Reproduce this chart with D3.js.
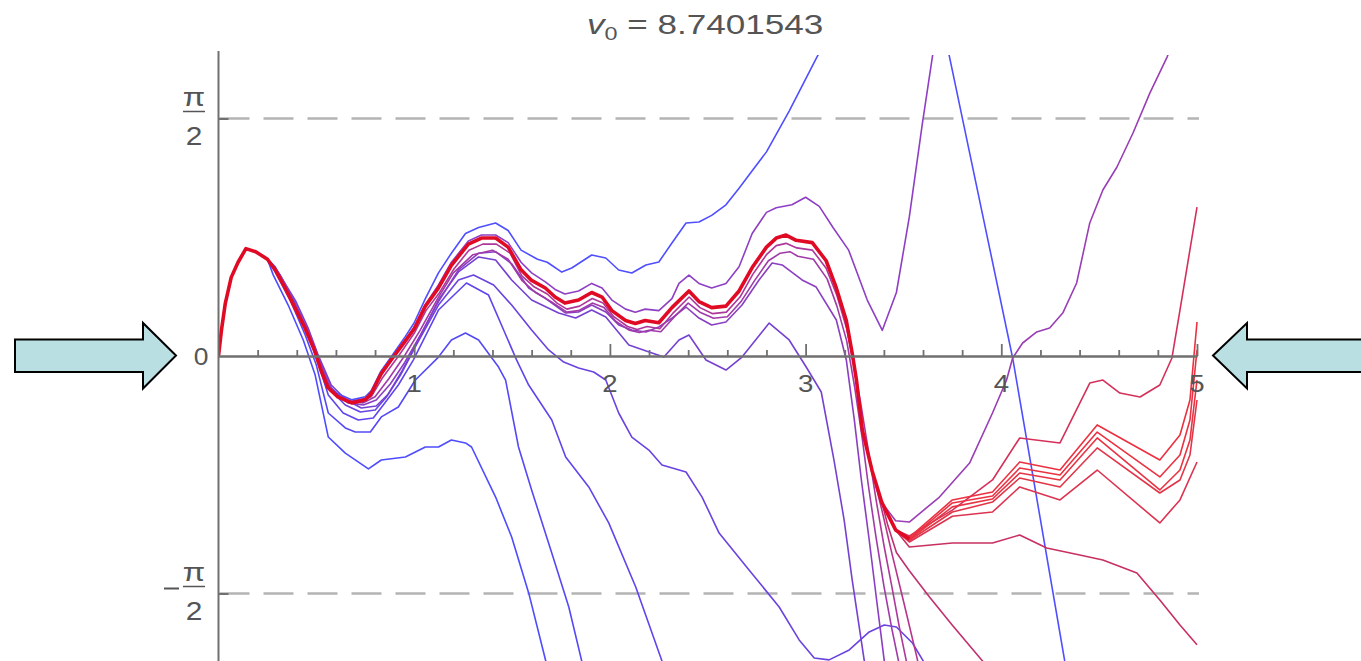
<!DOCTYPE html>
<html><head><meta charset="utf-8">
<script src="https://cdn.jsdelivr.net/npm/d3@7"></script>
<style>
html,body{margin:0;padding:0;background:#fff;}
svg{display:block;font-family:"Liberation Sans",Arial,sans-serif;}
</style></head><body>
<svg id="chart" width="1361" height="661"></svg>
<script>
// ---------- data ----------
const titleValue = "8.7401543";
const xTicks = [1, 2, 3, 4, 5];
const xMinorTicks = [0.2,0.4,0.6,0.8,1.2,1.4,1.6,1.8,2.2,2.4,2.6,2.8,3.2,3.4,3.6,3.8,4.2,4.4,4.6,4.8];
const yTickValues = [-Math.PI/2, Math.PI/2];
const dashedLevels = [-Math.PI/2, Math.PI/2];

// common start of every trajectory
const shared = [[0,0],[0.015,0.17],[0.035,0.35],[0.065,0.52],[0.10,0.62],[0.14,0.71],[0.19,0.69],[0.25,0.64]];

const coreTail = [[0.29,0.57],[0.34,0.45],[0.39,0.32],[0.44,0.19],[0.49,0.04],[0.525,-0.10],[0.56,-0.21],[0.61,-0.27],[0.68,-0.31],[0.75,-0.29],[0.78,-0.25],[0.83,-0.12],[0.88,-0.03],[0.955,0.10],[1.0,0.18],[1.057,0.33],[1.124,0.45],[1.19,0.60],[1.277,0.74],[1.344,0.78],[1.416,0.78],[1.48,0.72],[1.546,0.57],[1.60,0.50],[1.67,0.45],[1.72,0.39],[1.77,0.35],[1.84,0.37],[1.907,0.42],[1.96,0.39],[2.01,0.30],[2.08,0.235],[2.13,0.215],[2.18,0.235],[2.25,0.22],[2.317,0.32],[2.404,0.43],[2.455,0.36],[2.52,0.32],[2.593,0.33],[2.66,0.43],[2.727,0.585],[2.80,0.72],[2.85,0.78],[2.90,0.80],[2.952,0.765],[3.034,0.75],[3.105,0.63],[3.157,0.45],[3.208,0.235],[3.238,0.02],[3.26,-0.16],[3.29,-0.49],[3.34,-0.76],[3.39,-0.97],[3.46,-1.15],[3.53,-1.21]];

const c1Tail = [[0.28,0.535],[0.356,0.337],[0.433,0.106],[0.494,-0.126],[0.561,-0.536],[0.648,-0.642],[0.766,-0.747],[0.832,-0.688],[0.955,-0.668],[1.057,-0.602],[1.124,-0.602],[1.19,-0.556],[1.262,-0.575],[1.293,-0.602],[1.416,-0.933],[1.498,-1.197],[1.585,-1.567],[1.672,-2.016],[1.74,-2.41]];
const c2Tail = [[0.29,0.555],[0.366,0.37],[0.443,0.139],[0.5,-0.06],[0.561,-0.377],[0.648,-0.476],[0.699,-0.503],[0.776,-0.503],[0.832,-0.403],[0.919,-0.337],[1.006,-0.159],[1.124,-0.007],[1.19,0.106],[1.262,0.152],[1.329,0.106],[1.431,-0.073],[1.467,-0.159],[1.533,-0.602],[1.6,-0.886],[1.703,-1.303],[1.79,-1.66],[1.856,-2.017],[1.89,-2.28]];
const c3Tail = [[0.294,0.555],[0.381,0.37],[0.448,0.172],[0.504,-0.026],[0.561,-0.258],[0.637,-0.377],[0.714,-0.423],[0.791,-0.41],[0.842,-0.324],[0.919,-0.192],[0.996,-0.026],[1.124,0.304],[1.267,0.483],[1.38,0.403],[1.457,0.172],[1.523,-0.026],[1.585,-0.192],[1.703,-0.423],[1.774,-0.668],[1.892,-0.866],[1.994,-1.104],[2.132,-1.528],[2.266,-2.017],[2.3,-2.21]];
const eTail = [[0.3,0.555],[0.392,0.35],[0.453,0.172],[0.509,-0.013],[0.571,-0.225],[0.648,-0.324],[0.725,-0.37],[0.801,-0.357],[0.858,-0.271],[0.93,-0.126],[1.011,0.073],[1.124,0.337],[1.226,0.503],[1.303,0.536],[1.406,0.47],[1.498,0.337],[1.6,0.172],[1.687,0.04],[1.764,-0.04],[1.84,-0.079],[1.917,-0.106],[1.979,-0.159],[2.045,-0.377],[2.112,-0.536],[2.199,-0.622],[2.266,-0.721],[2.389,-0.767],[2.471,-0.933],[2.558,-1.171],[2.711,-1.415],[2.865,-1.66],[2.967,-1.878],[3.044,-1.997],[3.12,-2.01],[3.223,-1.944],[3.325,-1.825],[3.402,-1.779],[3.464,-1.792],[3.546,-1.898],[3.607,-2.03],[3.658,-2.21]];
const dTail = [[0.305,0.555],[0.397,0.357],[0.458,0.185],[0.509,0.007],[0.576,-0.192],[0.653,-0.291],[0.73,-0.344],[0.806,-0.331],[0.868,-0.251],[0.94,-0.093],[1.021,0.106],[1.124,0.37],[1.226,0.556],[1.329,0.655],[1.416,0.635],[1.498,0.503],[1.6,0.37],[1.738,0.284],[1.825,0.251],[1.907,0.304],[1.979,0.258],[2.097,0.073],[2.215,0.02],[2.276,-0.007],[2.353,0.106],[2.404,0.139],[2.491,-0.026],[2.593,-0.093],[2.675,-0.007],[2.814,0.218],[2.916,0.106],[3.003,-0.073],[3.08,-0.238],[3.145,-0.688],[3.197,-1.085],[3.238,-1.481],[3.3,-2.017],[3.325,-2.27]];
const aTail = [[0.29,0.59],[0.34,0.47],[0.39,0.34],[0.44,0.21],[0.49,0.06],[0.525,-0.08],[0.56,-0.19],[0.61,-0.25],[0.68,-0.29],[0.75,-0.27],[0.78,-0.23],[0.83,-0.10],[0.88,-0.01],[0.955,0.13],[1.0,0.22],[1.057,0.38],[1.124,0.55],[1.19,0.68],[1.262,0.81],[1.329,0.85],[1.416,0.88],[1.48,0.83],[1.546,0.70],[1.63,0.64],[1.68,0.62],[1.754,0.555],[1.805,0.582],[1.907,0.668],[1.979,0.648],[2.045,0.569],[2.112,0.549],[2.184,0.602],[2.25,0.622],[2.317,0.747],[2.389,0.88],[2.455,0.886],[2.52,0.93],[2.593,1.0],[2.66,1.11],[2.73,1.23],[2.8,1.35],[2.916,1.62],[3.059,1.98],[3.55,3.15],[3.735,1.98],[4.058,-0.013],[4.324,-2.017],[4.4,-2.5]];
const bTail = [[0.29,0.58],[0.34,0.47],[0.39,0.34],[0.44,0.21],[0.49,0.06],[0.525,-0.08],[0.56,-0.19],[0.61,-0.26],[0.68,-0.30],[0.75,-0.28],[0.78,-0.24],[0.83,-0.11],[0.88,-0.02],[0.955,0.11],[1.0,0.19],[1.057,0.34],[1.124,0.47],[1.19,0.62],[1.277,0.76],[1.344,0.80],[1.416,0.80],[1.48,0.75],[1.546,0.62],[1.6,0.55],[1.67,0.49],[1.72,0.44],[1.77,0.41],[1.84,0.43],[1.907,0.48],[1.96,0.45],[2.01,0.37],[2.08,0.31],[2.13,0.29],[2.18,0.31],[2.25,0.30],[2.317,0.38],[2.353,0.48],[2.404,0.535],[2.455,0.48],[2.52,0.45],[2.593,0.48],[2.66,0.59],[2.727,0.81],[2.80,0.95],[2.85,0.98],[2.93,1.0],[3.0,1.05],[3.07,0.99],[3.14,0.85],[3.22,0.70],[3.315,0.37],[3.392,0.17],[3.464,0.42],[3.53,0.92],[3.597,1.54],[3.648,1.98],[3.70,2.45]];
const k5Tail = [[0.315,0.536],[0.408,0.304],[0.468,0.139],[0.52,-0.04],[0.586,-0.238],[0.663,-0.311],[0.74,-0.324],[0.806,-0.291],[0.878,-0.185],[0.95,-0.046],[1.032,0.139],[1.124,0.36],[1.226,0.57],[1.329,0.68],[1.416,0.69],[1.498,0.61],[1.585,0.45],[1.672,0.38],[1.774,0.284],[1.84,0.291],[1.907,0.337],[1.979,0.291],[2.045,0.205],[2.112,0.172],[2.184,0.159],[2.25,0.192],[2.317,0.251],[2.389,0.324],[2.455,0.251],[2.52,0.205],[2.593,0.225],[2.675,0.337],[2.762,0.503],[2.829,0.615],[2.88,0.602],[2.982,0.503],[3.054,0.456],[3.157,0.238],[3.208,-0.026],[3.249,-0.423],[3.285,-0.82],[3.325,-1.217],[3.361,-1.594],[3.402,-2.017],[3.428,-2.275]];
const k4Tail = [[0.3,0.55],[0.40,0.30],[0.46,0.15],[0.515,-0.05],[0.58,-0.24],[0.66,-0.30],[0.74,-0.31],[0.80,-0.27],[0.87,-0.15],[0.95,0.0],[1.03,0.17],[1.12,0.38],[1.2,0.55],[1.3,0.67],[1.4,0.70],[1.48,0.64],[1.55,0.50],[1.62,0.42],[1.70,0.36],[1.78,0.29],[1.84,0.30],[1.91,0.35],[1.97,0.32],[2.03,0.23],[2.1,0.17],[2.15,0.155],[2.2,0.17],[2.26,0.16],[2.33,0.26],[2.4,0.35],[2.46,0.29],[2.53,0.25],[2.6,0.26],[2.67,0.36],[2.74,0.50],[2.81,0.63],[2.87,0.68],[2.92,0.69],[2.96,0.66],[3.04,0.64],[3.11,0.51],[3.16,0.33],[3.21,0.1],[3.25,-0.2],[3.29,-0.55],[3.32,-0.85],[3.36,-1.2],[3.40,-1.52],[3.44,-1.8],[3.48,-2.05],[3.5,-2.2]];
const k3Tail = [[0.3,0.56],[0.40,0.31],[0.46,0.16],[0.51,-0.03],[0.57,-0.23],[0.64,-0.29],[0.71,-0.31],[0.78,-0.27],[0.84,-0.14],[0.92,0.0],[1.0,0.15],[1.06,0.30],[1.13,0.42],[1.2,0.57],[1.28,0.70],[1.35,0.74],[1.42,0.74],[1.49,0.68],[1.55,0.53],[1.61,0.46],[1.68,0.41],[1.73,0.35],[1.78,0.31],[1.845,0.33],[1.91,0.38],[1.965,0.35],[2.02,0.26],[2.09,0.195],[2.14,0.175],[2.19,0.195],[2.255,0.18],[2.32,0.28],[2.405,0.39],[2.46,0.32],[2.525,0.28],[2.595,0.29],[2.665,0.39],[2.73,0.54],[2.80,0.67],[2.85,0.73],[2.90,0.745],[2.955,0.715],[3.035,0.70],[3.105,0.58],[3.16,0.40],[3.21,0.18],[3.245,-0.05],[3.28,-0.30],[3.32,-0.62],[3.36,-0.95],[3.40,-1.25],[3.44,-1.52],[3.48,-1.80],[3.52,-2.05],[3.55,-2.25]];
const k2Tail = [[3.39,-1.02],[3.44,-1.3],[3.50,-1.62],[3.57,-2.0],[3.6,-2.2]];
const k6Tail = [[3.42,-1.12],[3.464,-1.30],[3.53,-1.42],[3.633,-1.594],[3.75,-1.78],[3.904,-2.017],[4.0,-2.17]];
const gTail = [[3.46,-1.09],[3.53,-1.098],[3.684,-0.933],[3.838,-0.708],[3.955,-0.377],[4.027,-0.159],[4.058,-0.013],[4.109,0.086],[4.181,0.159],[4.247,0.185],[4.314,0.284],[4.385,0.483],[4.452,0.88],[4.519,1.098],[4.591,1.25],[4.673,1.475],[4.759,1.739],[4.847,1.977],[4.96,2.35]];
const r7Tail = [[3.53,-1.263],[3.75,-1.237],[3.955,-1.237],[4.094,-1.184],[4.232,-1.27],[4.401,-1.316],[4.519,-1.349],[4.693,-1.435],[4.81,-1.614],[4.913,-1.779],[5.0,-1.91]];
const r1Tail = [[3.53,-1.19],[3.75,-1.019],[3.955,-0.82],[4.094,-0.542],[4.3,-0.575],[4.452,-0.179],[4.519,-0.159],[4.606,-0.245],[4.709,-0.271],[4.81,-0.192],[4.872,-0.013],[4.913,0.304],[5.0,0.985]];
const r2Tail = [[3.53,-1.20],[3.75,-0.952],[3.955,-0.900],[4.094,-0.701],[4.3,-0.754],[4.49,-0.456],[4.81,-0.688],[4.913,-0.522],[4.964,-0.291],[5.0,0.225]];
const r3Tail = [[3.53,-1.21],[3.75,-0.972],[3.955,-0.926],[4.094,-0.741],[4.3,-0.787],[4.49,-0.503],[4.81,-0.800],[4.913,-0.655],[4.964,-0.423],[5.0,0.04]];
const r4Tail = [[3.53,-1.215],[3.75,-0.998],[3.955,-0.946],[4.094,-0.774],[4.3,-0.820],[4.49,-0.542],[4.81,-0.886],[4.913,-0.754],[4.964,-0.556],[5.0,-0.159]];
const r5Tail = [[3.53,-1.22],[3.75,-1.032],[3.955,-0.966],[4.094,-0.807],[4.3,-0.866],[4.49,-0.608],[4.81,-0.906],[4.913,-0.820],[4.964,-0.655],[5.0,-0.291]];
const r6Tail = [[3.53,-1.23],[3.75,-1.06],[3.955,-1.032],[4.094,-0.866],[4.3,-0.952],[4.49,-0.754],[4.81,-1.104],[4.913,-0.952],[5.0,-0.701]];

// ---------- assemble trajectories ----------
const core = shared.concat(coreTail);
const coreUpTo = t => core.filter(p => p[0] <= t);
const series = [
  {data: shared.concat(c1Tail), color: "#4d4cff"},
  {data: shared.concat(c2Tail), color: "#5549f6"},
  {data: shared.concat(c3Tail), color: "#5f46ec"},
  {data: shared.concat(eTail),  color: "#6a43e0"},
  {data: shared.concat(dTail),  color: "#7541d2"},
  {data: shared.concat(aTail),  color: "#4f4fff"},
  {data: shared.concat(k5Tail), color: "#8a3ec2"},
  {data: shared.concat(bTail),  color: "#8e3fc4"},
  {data: coreUpTo(3.39).concat(gTail), color: "#9a3db6"},
  {data: shared.concat(k4Tail), color: "#a03aa8"},
  {data: shared.concat(k3Tail), color: "#ad379a"},
  {data: coreUpTo(3.34).concat(k2Tail), color: "#b8348c"},
  {data: coreUpTo(3.39).concat(k6Tail), color: "#c0306f"},
  {data: coreUpTo(3.46).concat(r7Tail), color: "#c83060"},
  {data: coreUpTo(3.46).concat(r1Tail), color: "#d4305a"},
  {data: coreUpTo(3.46).concat(r6Tail), color: "#dd3350"},
  {data: coreUpTo(3.46).concat(r5Tail), color: "#e33548"},
  {data: coreUpTo(3.46).concat(r4Tail), color: "#e73444"},
  {data: coreUpTo(3.46).concat(r3Tail), color: "#ea3242"},
  {data: coreUpTo(3.46).concat(r2Tail), color: "#ec3040"}
];

// ---------- drawing ----------
const svg = d3.select("#chart");
const x = d3.scaleLinear().domain([0, 5]).range([218.5, 1197]);
const y = d3.scaleLinear().domain([-Math.PI/2, Math.PI/2]).range([593.5, 118.5]);
const plotTop = 55, plotBottom = 661;
const grey = "#707070", textCol = "#555";

// arrows (annotations)
svg.append("path").attr("d", "M15,339.5 H143 V323 L176,355.5 L143,388.5 V372 H15 Z")
  .attr("fill", "#b9dfe2").attr("stroke", "#000").attr("stroke-width", 2).attr("stroke-linejoin","miter");
svg.append("path").attr("d", "M1370,339.5 H1247 V323 L1213,355.5 L1247,388.5 V372 H1370 Z")
  .attr("fill", "#b9dfe2").attr("stroke", "#000").attr("stroke-width", 2);

// dashed reference lines
svg.selectAll("line.ref").data(dashedLevels).enter().append("line")
  .attr("x1", 219.5).attr("x2", x(5) + 2)
  .attr("y1", d => y(d)).attr("y2", d => y(d))
  .attr("stroke", "#b4b4b4").attr("stroke-width", 2.6).attr("stroke-dasharray", "30,14");

// clip
svg.append("clipPath").attr("id", "clip").append("rect")
  .attr("x", x(0)).attr("y", plotTop).attr("width", x(5) - x(0) + 4).attr("height", plotBottom - plotTop + 5);

const line = d3.line().x(d => x(d[0])).y(d => y(d[1]));
const g = svg.append("g").attr("clip-path", "url(#clip)");
g.selectAll("path.traj").data(series).enter().append("path")
  .attr("d", d => line(d.data)).attr("fill", "none")
  .attr("stroke", d => d.color).attr("stroke-width", 1.6).attr("stroke-linejoin", "round");
g.append("path").attr("d", line(core)).attr("fill", "none")
  .attr("stroke", "#e00a25").attr("stroke-width", 3.6).attr("stroke-linejoin", "round");

// x axis (ticks pointing up)
const xAxisMinor = d3.axisTop(x).tickValues(xMinorTicks).tickSize(6).tickSizeOuter(0).tickFormat("");
const xAxisMajor = d3.axisTop(x).tickValues(xTicks).tickSize(12).tickSizeOuter(0).tickFormat("");
[xAxisMinor, xAxisMajor].forEach(ax => {
  const a = svg.append("g").attr("transform", `translate(0,${y(0)})`).call(ax);
  a.selectAll("line").attr("stroke", grey).attr("stroke-width", 1.8);
  a.select(".domain").attr("stroke", grey).attr("stroke-width", 2);
});
svg.selectAll("text.xl").data(xTicks).enter().append("text")
  .attr("transform", d => `translate(${x(d)},392) scale(1.15,1)`)
  .attr("text-anchor", "middle").attr("font-size", 24).attr("fill", textCol).text(d => d);

// y axis
svg.append("line").attr("x1", x(0)).attr("x2", x(0)).attr("y1", 51).attr("y2", 661)
  .attr("stroke", grey).attr("stroke-width", 2);
const yAxis = d3.axisRight(y).tickValues(yTickValues).tickSize(10).tickSizeOuter(0).tickFormat("");
const ya = svg.append("g").attr("transform", `translate(${x(0)},0)`).call(yAxis);
ya.select(".domain").remove();
ya.selectAll("line").attr("stroke", grey).attr("stroke-width", 2);

// y labels
svg.append("text").attr("transform", `translate(201,${y(0) + 9}) scale(1.1,1)`)
  .attr("text-anchor", "middle").attr("font-size", 24).attr("fill", textCol).text("0");
yTickValues.forEach(v => {
  const cy = y(v);
  const neg = v < 0;
  const cx = 194;
  svg.append("text").attr("transform", `translate(${cx},${cy - 13}) scale(1.25,1)`)
    .attr("text-anchor", "middle").attr("font-size", 26).attr("fill", textCol).text("π");
  svg.append("line").attr("x1", cx - 11).attr("x2", cx + 11).attr("y1", cy - 7).attr("y2", cy - 7)
    .attr("stroke", textCol).attr("stroke-width", 1.5);
  svg.append("text").attr("transform", `translate(${cx},${cy + 26}) scale(1.15,1)`)
    .attr("text-anchor", "middle").attr("font-size", 26).attr("fill", textCol).text("2");
  if (neg) {
    svg.append("line").attr("x1", 164).attr("x2", 179).attr("y1", cy - 5).attr("y2", cy - 5)
      .attr("stroke", textCol).attr("stroke-width", 2);
  }
});

// title
const t = svg.append("text").attr("transform", "translate(587,33.5) scale(1.3,1)")
  .attr("font-size", 27).attr("fill", textCol);
t.append("tspan").attr("font-style", "italic").text("v");
t.append("tspan").attr("font-size", 18).attr("dy", 6).text("0");
t.append("tspan").attr("dy", -6).text(" = " + titleValue);
</script>
</body></html>
